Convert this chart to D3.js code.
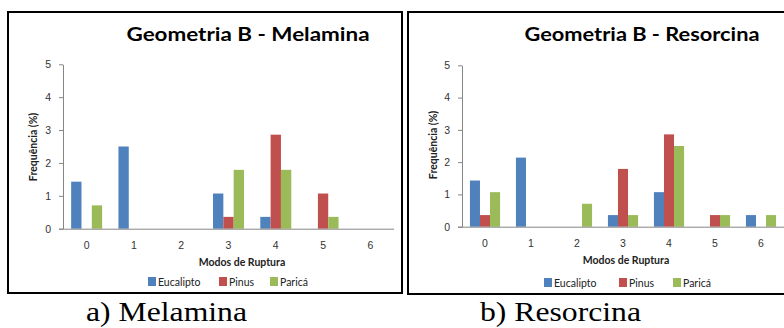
<!DOCTYPE html>
<html>
<head>
<meta charset="utf-8">
<script src="https://cdn.jsdelivr.net/npm/d3@7"></script>
<style>
  body { margin: 0; background: #fff; }
  svg { display: block; }
  .sans { font-family: Lato, "Open Sans", sans-serif; }
  .caption { font-family: "Liberation Serif", "Times New Roman", serif; }
</style>
</head>
<body>
<div id="chart"></div>
<script>
var width = 784;
var height = 328;

// data
var categories = ["0", "1", "2", "3", "4", "5", "6"];
var series = ["Eucalipto", "Pinus", "Paricá"];
var colors = ["#4F81BD", "#C0504D", "#9BBB59"];
var yTicks = [0, 1, 2, 3, 4, 5];

var melEucalipto = [1.43, 2.5, 0, 1.07, 0.36, 0, 0];
var melPinus     = [0, 0, 0, 0.36, 2.86, 1.07, 0];
var melParica    = [0.71, 0, 0, 1.79, 1.79, 0.36, 0];

var resEucalipto = [1.43, 2.14, 0, 0.36, 1.07, 0, 0.36];
var resPinus     = [0.36, 0, 0, 1.79, 2.86, 0.36, 0];
var resParica    = [1.07, 0, 0.71, 0.36, 2.5, 0.36, 0.36];

var svg = d3.select("#chart").append("svg")
    .attr("width", width)
    .attr("height", height);

// one panel = frame + title + axes + bars + legend
function drawPanel(p) {
  var g = svg.append("g").attr("class", "sans");

  g.append("rect")
    .attr("x", p.frame[0]).attr("y", p.frame[1])
    .attr("width", p.frame[2]).attr("height", p.frame[3])
    .attr("fill", "none").attr("stroke", "#000").attr("stroke-width", 2);

  g.append("text")
    .attr("x", p.titleX).attr("y", 41)
    .attr("text-anchor", "middle")
    .attr("font-size", 19).attr("font-weight", "bold")
    .attr("textLength", p.titleLen).attr("lengthAdjust", "spacingAndGlyphs")
    .text(p.title);

  var x = d3.scaleBand().domain(categories)
    .range([p.left, p.right]).paddingInner(0.345).paddingOuter(0.1725);
  var xs = d3.scaleBand().domain(series).range([0, x.bandwidth()]);
  var y = d3.scaleLinear().domain([0, 5]).range([p.bottom, p.top]);

  // y axis
  var ya = g.append("g")
    .attr("transform", "translate(" + p.left + ",0)")
    .call(d3.axisLeft(y).tickValues(yTicks).tickFormat(d3.format("d"))
      .tickSize(4).tickSizeOuter(0).tickPadding(8));
  ya.select(".domain").attr("stroke", "#868686");
  ya.selectAll(".tick line").attr("stroke", "#868686");
  ya.selectAll(".tick text").attr("font-size", 10.5).attr("fill", "#333")
    .attr("font-family", null);

  // bars
  var rows = categories.map(function(c, i) {
    return series.map(function(s, j) {
      return { cat: c, s: s, v: p.values[j][i], color: colors[j] };
    });
  });
  g.selectAll(".grp").data(rows).enter().append("g")
    .attr("transform", function(d, i) { return "translate(" + x(categories[i]) + ",0)"; })
    .selectAll("rect").data(function(d) { return d.filter(function(e) { return e.v > 0; }); })
    .enter().append("rect")
    .attr("x", function(d) { return xs(d.s); })
    .attr("width", xs.bandwidth())
    .attr("y", function(d) { return y(d.v); })
    .attr("height", function(d) { return y(0) - y(d.v); })
    .attr("fill", function(d) { return d.color; });

  // x axis
  var xa = g.append("g")
    .attr("transform", "translate(0," + p.bottom + ")")
    .call(d3.axisBottom(x).tickSize(0).tickSizeOuter(0).tickPadding(13));
  xa.select(".domain").attr("stroke", "#868686").attr("d", "M" + (p.left - 4) + ",0.5H" + p.right);
  xa.selectAll(".tick text").attr("font-size", 10.5).attr("fill", "#333")
    .attr("font-family", null);

  g.append("text")
    .attr("x", p.xTitleX).attr("y", p.bottom + 37)
    .attr("text-anchor", "middle")
    .attr("font-size", 10.5).attr("font-weight", "bold").attr("fill", "#222")
    .text("Modos de Ruptura");

  g.append("text")
    .attr("transform", "translate(" + p.yTitleX + "," + p.yTitleY + ") rotate(-90)")
    .attr("text-anchor", "middle")
    .attr("font-size", 10.5).attr("font-weight", "bold").attr("fill", "#222")
    .text("Frequência (%)");

  // legend
  var lg = g.selectAll(".leg").data(series).enter().append("g")
    .attr("transform", function(d, i) { return "translate(" + p.legendX[i] + "," + p.legendY + ")"; });
  lg.append("rect").attr("x", 0).attr("y", -5).attr("width", 8).attr("height", 9)
    .attr("fill", function(d, i) { return colors[i]; });
  lg.append("text").attr("x", 10).attr("y", 4)
    .attr("font-size", 10.5).attr("fill", "#222")
    .text(function(d) { return d; });

  svg.append("text")
    .attr("class", "caption")
    .attr("x", p.capX).attr("y", 321)
    .attr("font-size", 28)
    .attr("textLength", 161).attr("lengthAdjust", "spacingAndGlyphs")
    .text(p.caption);
}

drawPanel({
  frame: [8, 12, 394, 281],
  title: "Geometria B - Melamina", titleX: 248, titleLen: 243,
  left: 63, right: 394, top: 64.3, bottom: 228.7,
  values: [melEucalipto, melPinus, melParica],
  xTitleX: 242, yTitleX: 37, yTitleY: 147,
  legendX: [148, 219, 270], legendY: 282,
  caption: "a) Melamina", capX: 86
});

drawPanel({
  frame: [408, 12, 390, 282],
  title: "Geometria B - Resorcina", titleX: 642, titleLen: 235,
  left: 462, right: 784, top: 65.3, bottom: 226.7,
  values: [resEucalipto, resPinus, resParica],
  xTitleX: 626, yTitleX: 437, yTitleY: 145,
  legendX: [544, 619, 673], legendY: 283,
  caption: "b) Resorcina", capX: 480
});
</script>
</body>
</html>
